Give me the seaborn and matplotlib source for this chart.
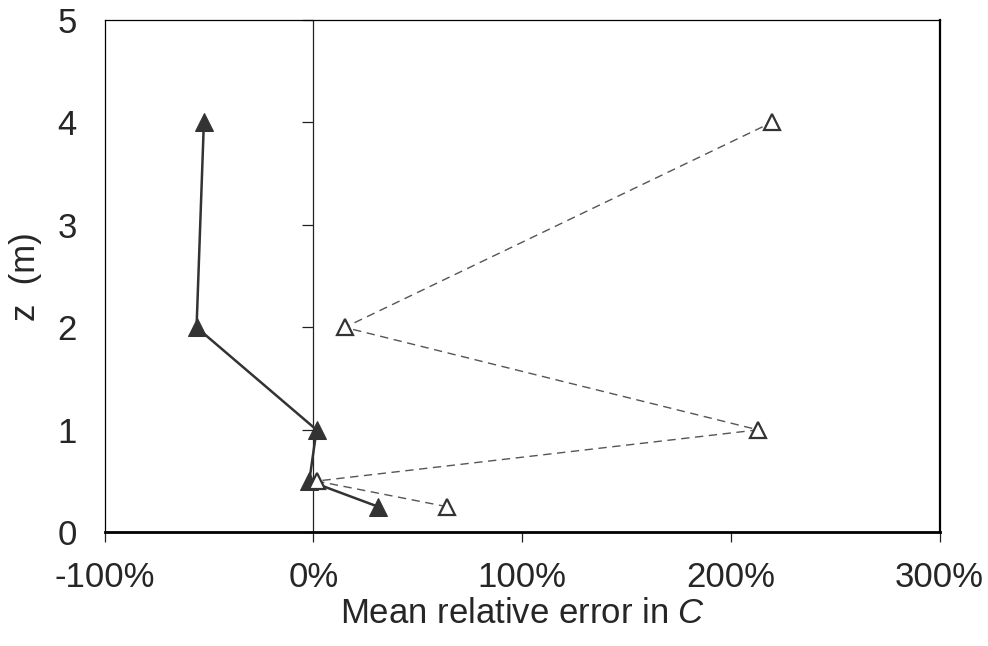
import numpy as np
import pandas as pd
import matplotlib
matplotlib.use("Agg")
import matplotlib.pyplot as plt
import seaborn as sns

# heights (m) and mean relative error (%)
z_levels = [0.25, 0.5, 1, 2, 4]
err_filled = [31, -2, 1.5, -56, -52.5]
err_open = [64, 1.5, 213, 15, 219.5]

x_ticks = [-100, 0, 100, 200, 300]
y_ticks = [0, 1, 2, 3, 4, 5]

df = pd.DataFrame({
    "z": z_levels * 2,
    "err": err_filled + err_open,
    "series": ["filled"] * len(z_levels) + ["open"] * len(z_levels),
})

sns.set_style("white")
plt.rcParams["font.family"] = ["Liberation Sans", "DejaVu Sans"]
plt.rcParams["mathtext.fontset"] = "custom"
plt.rcParams["mathtext.it"] = "Liberation Sans:italic"
plt.rcParams["mathtext.rm"] = "Liberation Sans"

fig = plt.figure(figsize=(9.88, 6.46), dpi=100)
ax = fig.add_axes([0.106, 0.176, 0.845, 0.793])

dark = "#333333"
sns.lineplot(data=df[df.series == "filled"], x="err", y="z", sort=False, estimator=None,
             color=dark, lw=1.8, marker="^", markersize=13, markerfacecolor=dark,
             markeredgecolor=dark, ax=ax, zorder=3)
sns.lineplot(data=df[df.series == "open"], x="err", y="z", sort=False, estimator=None,
             color="#555555", lw=1.0, linestyle=(0, (6, 4)), marker="^", markersize=12,
             markerfacecolor="white", markeredgecolor=dark, markeredgewidth=1.6,
             ax=ax, zorder=4)

# vertical zero line with the y-axis ticks sitting on it (Excel style)
ax.axvline(0, color="#222222", lw=0.9, zorder=1)
ax.hlines(y_ticks, -5.3, 0, color="#222222", lw=0.9, clip_on=False, zorder=1)

ax.set_xlim(-100, 300)
ax.set_ylim(0, 5)
ax.set_xticks(x_ticks)
ax.set_xticklabels([f"{t}%" for t in x_ticks])
ax.set_yticks(y_ticks)
ax.tick_params(axis="x", direction="out", length=7.5, width=0.9, pad=13,
               labelsize=25, bottom=True, color="#222222")
ax.tick_params(axis="y", length=0, pad=20, labelsize=25)

for s in ["left", "top"]:
    ax.spines[s].set_linewidth(0.9)
ax.spines["bottom"].set_linewidth(2.0)
ax.spines["right"].set_linewidth(1.6)
for s in ax.spines.values():
    s.set_color("black")

ax.set_xlabel(r"Mean relative error in $\it{C}$", fontsize=25, labelpad=2)
ax.set_ylabel("z  (m)", fontsize=25, labelpad=11)
ax.grid(False)

fig.savefig("out.png", dpi=100)
